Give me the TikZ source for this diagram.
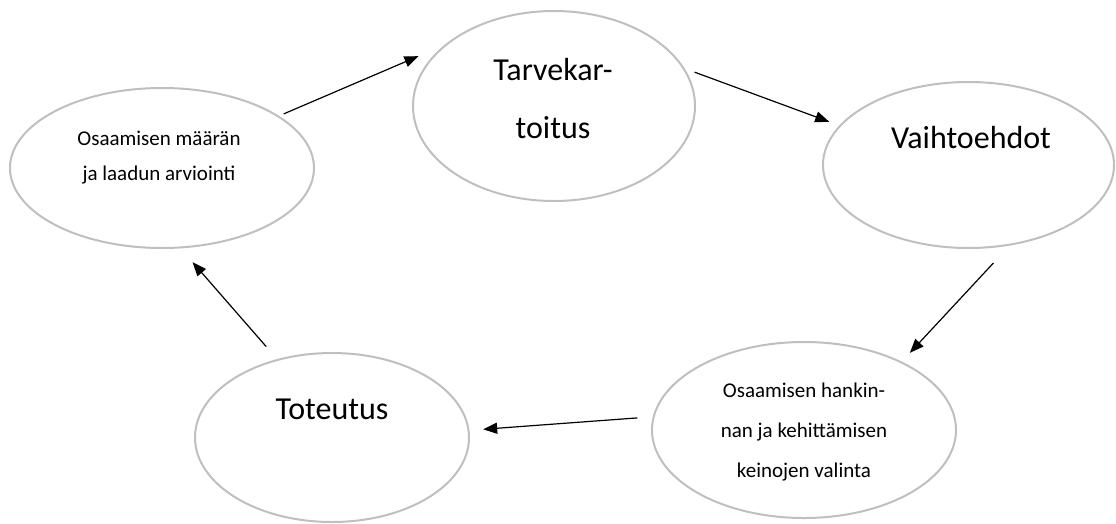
\documentclass[tikz,border=0pt]{standalone}
\usepackage{fontspec}
\setmainfont{Carlito}
\usetikzlibrary{shapes.geometric,arrows.meta}

\begin{document}
\begin{tikzpicture}[x=1pt,y=-1pt]
    % Define basic styles
    \tikzset{
        phase/.style={
            ellipse,
            draw=black!25,
            line width=2pt,
            inner sep=0pt
        },
        bigtxt/.style={
            font=\fontsize{32}{58}\selectfont,
            align=center,
            anchor=base
        },
        smalltxt/.style={
            font=\fontsize{21}{35}\selectfont,
            align=center,
            anchor=base
        },
        flow/.style={
            -{Triangle[length=14pt,width=11pt]},
            line width=1.2pt
        }
    }
    \useasboundingbox (0,0) rectangle (1116,523);

    % Phases of the cycle
    \node[phase, minimum width=282pt, minimum height=190pt] (tarve) at (554,106) {};
    \node[phase, minimum width=291pt, minimum height=166pt] (vaiht) at (968.5,165) {};
    \node[phase, minimum width=304pt, minimum height=176pt] (hank) at (804,430) {};
    \node[phase, minimum width=274pt, minimum height=169pt] (tot) at (332,437.5) {};
    \node[phase, minimum width=304pt, minimum height=160pt] (arvio) at (162,168) {};

    % Texts (base = baseline of the last line)
    \node[bigtxt] (tarveT) at (553,138) {Tarvekar-\\toitus};
    \node[bigtxt] (vaihtT) at (971,148) {Vaihtoehdot};
    \node[smalltxt, font=\fontsize{21}{40}\selectfont] (hankT) at (804,477)
        {Osaamisen hankin-\\nan ja kehittämisen\\keinojen valinta};
    \node[bigtxt] (totT) at (332,419) {Toteutus};
    \node[smalltxt] (arvioT) at (159,180) {Osaamisen määrän\\ja laadun arviointi};

    % Arrows round the cycle
    \draw[flow, shorten <=5pt, shorten >=28pt] (arvio.24.7) -- (tarve.151.2);
    \draw[flow, shorten <=10.6pt, shorten >=10.7pt] (tarve.16.4) -- (vaiht.163.7);
    \draw[flow, shorten <=23.7pt, shorten >=11.9pt] (vaiht.-63.8) -- (hank.35.8);
    \draw[flow, shorten <=15.5pt, shorten >=13.7pt] (hank.175.4) -- (tot.3.1);
    \draw[flow, shorten <=16.5pt, shorten >=18.2pt] (tot.125.8) -- (arvio.-77.6);
\end{tikzpicture}
\end{document}
